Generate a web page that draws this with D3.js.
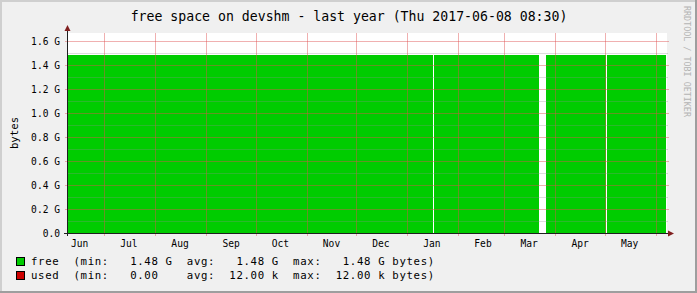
<!DOCTYPE html>
<html lang="en">
<head>
    <title>free space on devshm - last year</title>
    <script src="https://d3js.org/d3.v7.min.js"></script>
    <style>
        html, body {
            margin: 0;
            padding: 0;
            background: #f0f0f0;
        }

        svg text {
            font-family: "DejaVu Sans Mono", monospace;
            fill: #000;
        }

        .grid-minor {
            stroke: rgba(143, 143, 143, 0.3);
            stroke-width: 1;
        }

        .grid-major {
            stroke: rgba(222, 79, 79, 0.45);
            stroke-width: 1;
        }

        .axis-line {
            stroke: #1f1f1f;
            stroke-width: 1;
        }

        .arrow {
            fill: #801f1f;
        }
    </style>
</head>
<body>
<div id="chart"></div>

<script>
    // data
    var sampleTimes = [
        "2016-06-08T08:30", "2017-01-16T15:00",
        "2017-01-17T00:00",
        "2017-01-17T06:00", "2017-03-22T00:00",
        "2017-03-24T00:00",
        "2017-03-26T06:00", "2017-05-01T16:30",
        "2017-05-02T00:00",
        "2017-05-02T07:00", "2017-06-07T02:30"
    ];
    var freeBytes = [1.485e9, 1.485e9, null, 1.485e9, 1.485e9, null, 1.485e9, 1.485e9, null, 1.485e9, 1.485e9];
    var usedBytes = [12e3, 12e3, null, 12e3, 12e3, null, 12e3, 12e3, null, 12e3, 12e3];

    var monthLabels = ["Jun", "Jul", "Aug", "Sep", "Oct", "Nov", "Dec", "Jan", "Feb", "Mar", "Apr", "May"];
    var yTickValues = [0, 0.2e9, 0.4e9, 0.6e9, 0.8e9, 1.0e9, 1.2e9, 1.4e9, 1.6e9];
    var yTickLabels = ["0.0", "0.2 G", "0.4 G", "0.6 G", "0.8 G", "1.0 G", "1.2 G", "1.4 G", "1.6 G"];
    var yMinorValues = [0.1e9, 0.3e9, 0.5e9, 0.7e9, 0.9e9, 1.1e9, 1.3e9, 1.5e9];

    var seriesNames = ["free", "used"];
    var seriesColors = ["#00cc00", "#cc0000"];
    var legendMin = [" 1.48 G", " 0.00  "];
    var legendAvg = [" 1.48 G", "12.00 k"];
    var legendMax = [" 1.48 G", "12.00 k"];

    var titleText = "free space on devshm - last year (Thu 2017-06-08 08:30)";
    var startTime = "2016-06-08T08:30";
    var endTime = "2017-06-08T08:30";

    var w = 697;
    var h = 293;
    var plotLeft = 67;
    var plotRight = 668;
    var plotTop = 33;
    var plotBottom = 233;

    var parseTime = d3.timeParse("%Y-%m-%dT%H:%M");
    var t0 = parseTime(startTime);
    var t1 = parseTime(endTime);

    var data = sampleTimes.map(function(t, i) {
        return { time: parseTime(t), free: freeBytes[i], used: usedBytes[i] };
    });

    var svg = d3.select("#chart")
        .append("svg")
        .attr("width", w)
        .attr("height", h);

    // frame shading like rrdtool
    svg.append("rect").attr("x", 0).attr("y", 0).attr("width", w).attr("height", h).attr("fill", "#f0f0f0");
    svg.append("path").attr("d", `M0,0H${w}V2H2V${h}H0Z`).attr("fill", "#cfcfcf");
    svg.append("path").attr("d", `M${w},${h}H0V${h - 2}H${w - 2}V0H${w}Z`).attr("fill", "#9e9e9e");

    var xScale = d3.scaleTime()
        .domain([t0, t1])
        .range([plotLeft, plotRight]);

    var yScale = d3.scaleLinear()
        .domain([0, 1.6667e9])
        .range([plotBottom, plotTop]);

    // canvas
    svg.append("rect")
        .attr("x", plotLeft)
        .attr("y", plotTop)
        .attr("width", plotRight - 1 - plotLeft)
        .attr("height", plotBottom - plotTop)
        .attr("fill", "#fff");

    // areas
    var freeArea = d3.area()
        .defined(d => d.free != null)
        .x(d => xScale(d.time))
        .y0(yScale(0))
        .y1(d => yScale(d.free));

    var usedArea = d3.area()
        .defined(d => d.used != null)
        .x(d => xScale(d.time))
        .y0(d => yScale(d.free))
        .y1(d => yScale(d.free + d.used));

    svg.append("path")
        .datum(data)
        .attr("d", freeArea)
        .attr("fill", seriesColors[0])
        .attr("shape-rendering", "crispEdges");

    svg.append("path")
        .datum(data)
        .attr("d", usedArea)
        .attr("fill", seriesColors[1])
        .attr("shape-rendering", "crispEdges");

    // grid
    var grid = svg.append("g").attr("shape-rendering", "crispEdges");

    grid.selectAll("line.minor-y")
        .data(yMinorValues)
        .enter()
        .append("line")
        .attr("class", "grid-minor")
        .attr("x1", plotLeft)
        .attr("x2", plotRight)
        .attr("y1", d => Math.round(yScale(d)) + 0.5)
        .attr("y2", d => Math.round(yScale(d)) + 0.5);

    grid.selectAll("line.major-y")
        .data(yTickValues.slice(1))
        .enter()
        .append("line")
        .attr("class", "grid-major")
        .attr("x1", plotLeft - 2)
        .attr("x2", plotRight + 1)
        .attr("y1", d => Math.round(yScale(d)) + 0.5)
        .attr("y2", d => Math.round(yScale(d)) + 0.5);

    var monthStarts = d3.timeMonth.range(d3.timeMonth.ceil(t0), t1);

    grid.selectAll("line.major-x")
        .data(monthStarts)
        .enter()
        .append("line")
        .attr("class", "grid-major")
        .attr("x1", d => Math.round(xScale(d)) + 0.5)
        .attr("x2", d => Math.round(xScale(d)) + 0.5)
        .attr("y1", plotTop)
        .attr("y2", plotBottom + 3);

    // axes
    svg.append("line")
        .attr("class", "axis-line")
        .attr("x1", plotLeft - 3)
        .attr("x2", plotRight + 1)
        .attr("y1", plotBottom + 0.5)
        .attr("y2", plotBottom + 0.5);

    svg.append("line")
        .attr("class", "axis-line")
        .attr("x1", plotLeft + 0.5)
        .attr("x2", plotLeft + 0.5)
        .attr("y1", plotBottom + 3)
        .attr("y2", plotTop - 3);

    svg.append("path")
        .attr("class", "arrow")
        .attr("d", `M${plotRight},${plotBottom - 2.5}L${plotRight + 6},${plotBottom + 0.5}L${plotRight},${plotBottom + 3.5}Z`);

    svg.append("path")
        .attr("class", "arrow")
        .attr("d", `M${plotLeft - 2.5},${plotTop - 2}L${plotLeft + 0.5},${plotTop - 8}L${plotLeft + 3.5},${plotTop - 2}Z`);

    // y tick labels
    svg.selectAll("text.ytick")
        .data(yTickValues)
        .enter()
        .append("text")
        .attr("x", plotLeft - 7)
        .attr("y", d => yScale(d) + 3.5)
        .attr("text-anchor", "end")
        .style("font-size", "9.6px")
        .text((d, i) => yTickLabels[i]);

    // x month labels, placed mid month like rrdtool
    var labelTimes = d3.timeMonth.range(d3.timeMonth.floor(t0), t1)
        .map(d => d3.timeDay.offset(d, 15))
        .filter(d => d >= t0 && d <= t1);

    svg.selectAll("text.xtick")
        .data(labelTimes)
        .enter()
        .append("text")
        .attr("x", d => xScale(d))
        .attr("y", plotBottom + 14)
        .attr("text-anchor", "middle")
        .style("font-size", "9.6px")
        .text((d, i) => monthLabels[i]);

    // title
    svg.append("text")
        .attr("x", 349)
        .attr("y", 21)
        .attr("text-anchor", "middle")
        .style("font-size", "13.2px")
        .text(titleText);

    // vertical label
    svg.append("text")
        .attr("transform", "translate(18,133) rotate(-90)")
        .attr("text-anchor", "middle")
        .style("font-size", "10.7px")
        .text("bytes");

    // watermark
    svg.append("text")
        .attr("transform", "translate(684,6) rotate(90)")
        .attr("text-anchor", "start")
        .style("font-size", "8.4px")
        .style("fill", "#b4b4b4")
        .text("RRDTOOL / TOBI OETIKER");

    // legend
    seriesNames.forEach(function(name, i) {
        var row = svg.append("g")
            .attr("transform", `translate(0, ${265 + i * 14})`);

        row.append("rect")
            .attr("x", 16.5)
            .attr("y", -7.5)
            .attr("width", 8)
            .attr("height", 8)
            .attr("fill", seriesColors[i])
            .attr("stroke", "#000")
            .attr("stroke-width", 1);

        var line = name + "  (min:  " + legendMin[i] +
            "  avg:  " + legendAvg[i] +
            "  max:  " + legendMax[i] + " bytes)";

        row.append("text")
            .attr("x", 31)
            .attr("y", 0)
            .attr("xml:space", "preserve")
            .style("white-space", "pre")
            .style("font-size", "10.7px")
            .style("letter-spacing", "0.65px")
            .text(line);
    });
</script>
</body>
</html>
